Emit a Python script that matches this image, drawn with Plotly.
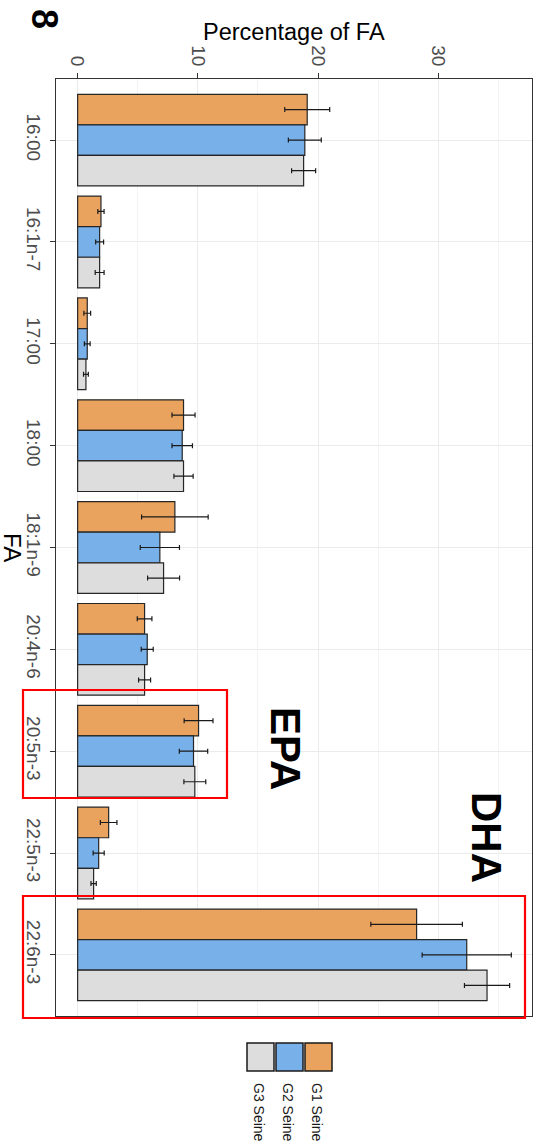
import plotly.graph_objects as go

# ---- data ----
categories = ["16:00", "16:1n-7", "17:00", "18:00", "18:1n-9",
              "20:4n-6", "20:5n-3", "22:5n-3", "22:6n-3"]
g1_vals = [19.1, 1.94, 0.80, 8.81, 8.09, 5.57, 10.06, 2.58, 28.2]
g1_err = [1.87, 0.26, 0.28, 0.96, 2.77, 0.61, 1.20, 0.69, 3.81]
g2_vals = [18.9, 1.83, 0.80, 8.70, 6.84, 5.79, 9.64, 1.75, 32.37]
g2_err = [1.37, 0.33, 0.24, 0.85, 1.63, 0.50, 1.18, 0.46, 3.71]
g3_vals = [18.8, 1.83, 0.69, 8.81, 7.15, 5.57, 9.75, 1.33, 34.06]
g3_err = [1.00, 0.37, 0.20, 0.80, 1.33, 0.50, 0.91, 0.22, 1.88]
group_names = ["G1 Seine", "G2 Seine", "G3 Seine"]
group_colors = ["#EAA35E", "#78B0EA", "#DDDDDD"]
x_ticks = [0, 10, 20, 30]

W, H = 538, 1144
ML, MR, MT, MB = 56, 6, 79, 128
PW, PH = W - ML - MR, H - MT - MB
FONT = "Liberation Sans, Arial, sans-serif"


def px(x):
    return (x - ML) / PW


def py(y):
    return 1 - (y - MT) / PH


fig = go.Figure()
for name, vals, errs, col in zip(group_names, [g1_vals, g2_vals, g3_vals],
                                 [g1_err, g2_err, g3_err], group_colors):
    fig.add_trace(go.Bar(
        y=categories, x=vals, orientation="h", name=name,
        marker=dict(color=col, line=dict(color="#262626", width=1.2)),
        error_x=dict(type="data", array=errs, visible=True,
                     color="#1a1a1a", thickness=1.2, width=2.5),
        showlegend=False,
    ))

fig.update_layout(
    width=W, height=H,
    margin=dict(l=ML, r=MR, t=MT, b=MB, pad=0),
    paper_bgcolor="white", plot_bgcolor="white",
    barmode="group", bargap=0.1, bargroupgap=0,
    font=dict(family=FONT, color="#000000"),
    xaxis=dict(
        side="top", range=[-1.8, 37.8], tickvals=x_ticks,
        tickangle=90, ticks="outside", ticklen=5, tickcolor="#333333",
        tickfont=dict(size=19, color="#4d4d4d"),
        showgrid=True, gridcolor="#EBEBEB", gridwidth=1,
        minor=dict(dtick=5, showgrid=True, gridcolor="#F3F3F3", gridwidth=0.7),
        showline=True, linecolor="#333333", linewidth=1, mirror=True,
        zeroline=False,
    ),
    yaxis=dict(
        type="category", categoryorder="array", categoryarray=categories,
        range=[8.6, -0.6],
        tickangle=90, ticks="outside", ticklen=5, tickcolor="#333333",
        tickfont=dict(size=19, color="#4d4d4d"),
        showgrid=True, gridcolor="#EBEBEB", gridwidth=1,
        showline=True, linecolor="#333333", linewidth=1, mirror=True,
        zeroline=False,
    ),
)

annotations = [
    dict(text="Percentage of FA", x=px(294), y=py(32), xref="paper", yref="paper",
         showarrow=False, font=dict(size=23.5, color="#000000"),
         xanchor="center", yanchor="middle"),
    dict(text="FA", x=px(13), y=py(547), xref="paper", yref="paper",
         showarrow=False, font=dict(size=24, color="#000000"), textangle=90,
         xanchor="center", yanchor="middle"),
    dict(text="<b>8</b>", x=px(44), y=py(19), xref="paper", yref="paper",
         showarrow=False, font=dict(size=36, color="#000000"), textangle=90,
         xanchor="center", yanchor="middle"),
    dict(text="<b>EPA</b>", x=px(286), y=py(748), xref="paper", yref="paper",
         showarrow=False, font=dict(size=42, color="#000000"), textangle=90,
         xanchor="center", yanchor="middle"),
    dict(text="<b>DHA</b>", x=px(487), y=py(837), xref="paper", yref="paper",
         showarrow=False, font=dict(size=42, color="#000000"), textangle=90,
         xanchor="center", yanchor="middle"),
]

shapes = [
    dict(type="rect", xref="paper", yref="paper", x0=px(23), x1=px(227),
         y0=py(690), y1=py(798), line=dict(color="#FF0000", width=2.2)),
    dict(type="rect", xref="paper", yref="paper", x0=px(23), x1=px(525),
         y0=py(896), y1=py(1018), line=dict(color="#FF0000", width=2.2)),
]

# manual rotated legend (G3, G2, G1 from left to right)
leg_x = [247, 276, 305]
for i, idx in enumerate([2, 1, 0]):
    x0 = leg_x[i]
    shapes.append(dict(type="rect", xref="paper", yref="paper",
                       x0=px(x0), x1=px(x0 + 27), y0=py(1043), y1=py(1071),
                       fillcolor=group_colors[idx],
                       line=dict(color="#1a1a1a", width=1.5)))
    annotations.append(dict(text=group_names[idx], x=px(x0 + 12), y=py(1112),
                            xref="paper", yref="paper", showarrow=False,
                            font=dict(size=14, color="#1a1a1a"), textangle=90,
                            xanchor="center", yanchor="middle"))

fig.update_layout(annotations=annotations, shapes=shapes)
fig.write_html(
    "out.html",
    config={"displayModeBar": False},
    post_script="document.body.style.margin='0';document.body.style.padding='0';"
                "document.body.style.overflow='hidden';",
)
